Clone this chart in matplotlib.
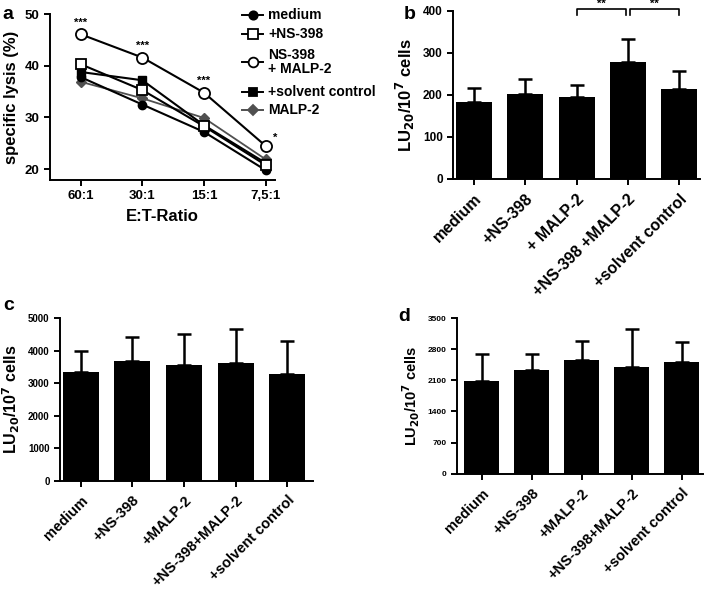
import matplotlib
matplotlib.use("Agg")
import matplotlib.pyplot as plt
import numpy as np

plt.rcParams['font.family'] = ['Liberation Sans', 'DejaVu Sans']
plt.rcParams['font.weight'] = 'bold'
plt.rcParams['axes.linewidth'] = 1.4

# panel a
ratios = ['60:1', '30:1', '15:1', '7,5:1']
lysis_medium = [37.8, 32.5, 27.2, 19.8]
lysis_ns398 = [40.3, 35.3, 28.3, 20.8]
lysis_ns398_malp2 = [46.1, 41.6, 34.8, 24.5]
lysis_solvent = [38.8, 37.2, 28.5, 21.2]
lysis_malp2 = [36.9, 33.7, 29.9, 21.9]
stars_a = ['***', '***', '***', '*']

# panel b
labels_b = ['medium', '+NS-398', '+ MALP-2', '+NS-398 +MALP-2', '+solvent control']
lu_b = [183, 201, 194, 277, 213]
err_b = [32, 37, 29, 55, 44]

# panel c
labels_cd = ['medium', '+NS-398', '+MALP-2', '+NS-398+MALP-2', '+solvent control']
lu_c = [3340, 3670, 3570, 3630, 3270]
err_c = [640, 760, 950, 1030, 1030]

# panel d
lu_d = [2090, 2340, 2560, 2400, 2520]
err_d = [610, 360, 430, 850, 440]

fig = plt.figure(figsize=(7.07, 5.90), dpi=100)


def style_axes(ax):
    ax.spines['top'].set_visible(False)
    ax.spines['right'].set_visible(False)
    ax.tick_params(direction='out', length=4, width=1.4)


# ---- a ----
ax = fig.add_axes([0.0707, 0.695, 0.318, 0.281])
x = np.arange(len(ratios))
ax.plot(x, lysis_malp2, color='#505050', marker='D', ms=5, lw=1.3, zorder=2)
ax.plot(x, lysis_medium, color='black', marker='o', ms=6, lw=1.5, zorder=3)
ax.plot(x, lysis_solvent, color='black', marker='s', ms=6, lw=1.5, zorder=3)
ax.plot(x, lysis_ns398, color='black', marker='s', ms=7, mfc='white', mew=1.3, lw=1.5, zorder=4)
ax.plot(x, lysis_ns398_malp2, color='black', marker='o', ms=8, mfc='white', mew=1.3, lw=1.5, zorder=5)
for xi, yi, s in zip(x, lysis_ns398_malp2, stars_a):
    if s == '*':
        ax.text(xi + 0.12, yi + 0.5, s, ha='left', va='bottom', fontsize=8)
    else:
        ax.text(xi, yi + 1.3, s, ha='center', va='bottom', fontsize=8)
ax.set_xlim(-0.5, 3.15)
ax.set_ylim(17.9, 50)
ax.set_yticks([20, 30, 40, 50])
ax.set_xticks(x)
ax.set_xticklabels(ratios)
ax.tick_params(labelsize=9.5)
ax.set_xlabel('E:T-Ratio', fontsize=12, fontweight='bold', labelpad=5)
ax.set_ylabel('specific lysis (%)', fontsize=12, fontweight='bold')
style_axes(ax)

# legend for a
lx0, lx1, ltx = 242 / 707, 263 / 707, 268 / 707
entries = [
    (15, 'medium', dict(marker='o', color='black', mfc='black', ms=6)),
    (34, '+NS-398', dict(marker='s', color='black', mfc='white', ms=7)),
    (62, 'NS-398\n+ MALP-2', dict(marker='o', color='black', mfc='white', ms=7)),
    (92, '+solvent control', dict(marker='s', color='black', mfc='black', ms=6)),
    (110, 'MALP-2', dict(marker='D', color='#505050', mfc='#505050', ms=5)),
]
for py, txt, kw in entries:
    fy = 1 - py / 590
    fig.add_artist(plt.Line2D([lx0, lx1], [fy, fy], lw=1.4, transform=fig.transFigure,
                              color=kw['color']))
    fig.add_artist(plt.Line2D([(lx0 + lx1) / 2], [fy], lw=0, transform=fig.transFigure,
                              mew=1.3, **kw))
    fig.text(ltx, fy, txt, ha='left', va='center', fontsize=10, linespacing=1.0)
fig.text(0.004, 0.976, 'a', fontsize=14, fontweight='bold', va='center')


def bar_panel(rect, vals, errs, labels, ylim, yticks, xlim, ylabel, tick_fs, lab_fs, yl_fs):
    ax = fig.add_axes(rect)
    xs = np.arange(len(vals))
    ax.bar(xs, vals, width=0.7, color='black', zorder=3)
    ax.errorbar(xs, vals, yerr=[np.zeros(len(errs)), errs], fmt='none',
                ecolor='black', elinewidth=1.8, capsize=5, capthick=1.8, zorder=2)
    ax.set_xlim(*xlim)
    ax.set_ylim(*ylim)
    ax.set_yticks(yticks)
    ax.set_xticks(xs)
    ax.set_xticklabels(labels, rotation=45, ha='right', rotation_mode='anchor', fontsize=lab_fs)
    ax.tick_params(axis='y', labelsize=tick_fs)
    ax.tick_params(axis='x', pad=5)
    ax.set_ylabel(ylabel, fontsize=yl_fs, fontweight='bold')
    style_axes(ax)
    return ax


ylab = r'LU$_{\mathbf{20}}$/10$^{\mathbf{7}}$ cells'

# ---- b ----
axb = bar_panel([0.641, 0.697, 0.349, 0.285], lu_b, err_b, labels_b, (0, 400),
                [0, 100, 200, 300, 400], (-0.4, 4.4), ylab, 8.5, 11.5, 12)
# significance brackets
for a0, a1 in [(2, 3), (3, 4)]:
    xa, xb = a0 + 0.04 if a0 == 3 else a0, a1 - 0.04 if a1 == 3 else a1
    axb.plot([xa, xa, xb, xb], [390, 403, 403, 390], color='black', lw=1.2, clip_on=False)
    axb.text((xa + xb) / 2, 404, '**', ha='center', va='bottom', fontsize=8)
fig.text(0.571, 0.975, 'b', fontsize=14, fontweight='bold', va='center')

# ---- c ----
bar_panel([0.0849, 0.185, 0.358, 0.276], lu_c, err_c, labels_cd, (0, 5000),
          [0, 1000, 2000, 3000, 4000, 5000], (-0.4, 4.5), ylab, 7, 10.5, 11.5)
fig.text(0.004, 0.483, 'c', fontsize=14, fontweight='bold', va='center')

# ---- d ----
bar_panel([0.646, 0.197, 0.348, 0.264], lu_d, err_d, labels_cd, (0, 3500),
          [0, 700, 1400, 2100, 2800, 3500], (-0.5, 4.42), ylab, 6, 10.5, 10.5)
fig.text(0.563, 0.463, 'd', fontsize=14, fontweight='bold', va='center')

fig.savefig('out.png', dpi=100)
